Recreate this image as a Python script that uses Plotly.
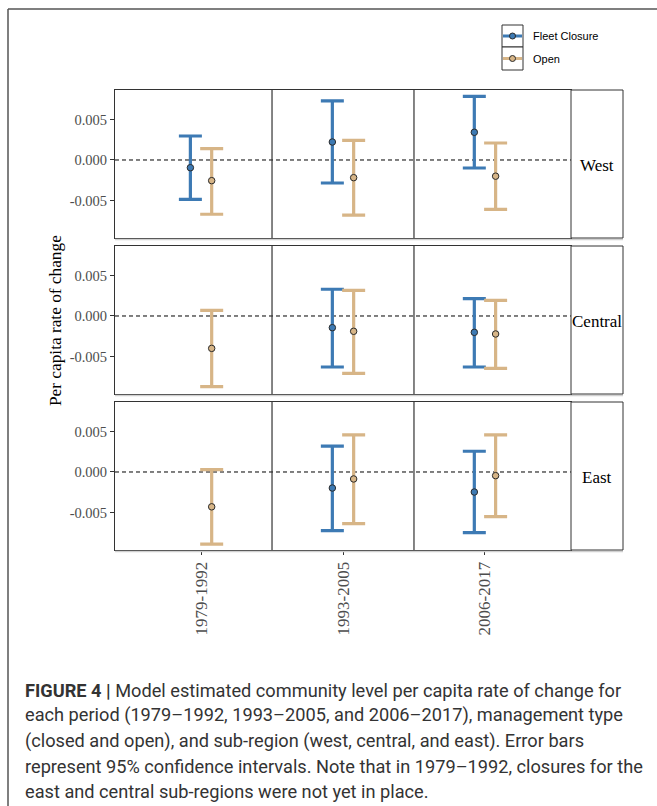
import plotly.graph_objects as go

# ---- data -------------------------------------------------------------
periods = ["1979-1992", "1993-2005", "2006-2017"]
regions = ["West", "Central", "East"]

# Fleet Closure estimates (mean, lower 95%, upper 95%) per region, per period
closure_mean = {
    "West":    [-0.00095, 0.00222, 0.00342],
    "Central": [None, -0.00144, -0.00202],
    "East":    [None, -0.00198, -0.00247],
}
closure_low = {
    "West":    [-0.00486, -0.00284, -0.00099],
    "Central": [None, -0.00630, -0.00630],
    "East":    [None, -0.00724, -0.00748],
}
closure_high = {
    "West":    [0.00296, 0.00730, 0.00786],
    "Central": [None, 0.00330, 0.00214],
    "East":    [None, 0.00320, 0.00256],
}

# Open estimates
open_mean = {
    "West":    [-0.00255, -0.00218, -0.00200],
    "Central": [-0.00400, -0.00189, -0.00222],
    "East":    [-0.00430, -0.00086, -0.00045],
}
open_low = {
    "West":    [-0.00670, -0.00680, -0.00610],
    "Central": [-0.00873, -0.00708, -0.00646],
    "East":    [-0.00890, -0.00637, -0.00550],
}
open_high = {
    "West":    [0.00140, 0.00243, 0.00210],
    "Central": [0.00070, 0.00317, 0.00193],
    "East":    [0.00030, 0.00457, 0.00457],
}

y_ticks = [-0.005, 0.0, 0.005]
y_tick_text = ["-0.005", "0.000", "0.005"]

caption_lines = [
    "<b>FIGURE 4 |</b> Model estimated community level per capita rate of change for",
    "each period (1979–1992, 1993–2005, and 2006–2017), management type",
    "(closed and open), and sub-region (west, central, and east). Error bars",
    "represent 95% confidence intervals. Note that in 1979–1992, closures for the",
    "east and central sub-regions were not yet in place.",
]

# ---- styling ------------------------------------------------------------
W, H = 657, 806
BLUE = "#3d7ab4"
TAN = "#d7b587"
FRAME = "#333333"
SERIF = "Liberation Serif, Times New Roman, serif"
SANS = "Liberation Sans, Arial, sans-serif"
DODGE = 0.075
X_RANGE = [0.394, 3.606]
Y_RANGE = [-0.00963, 0.00864]


def px_x(p):
    return p / W


def px_y(p):
    return 1 - p / H


panel_left, panel_right, strip_right = 115, 571, 623
rows_px = [(90, 238), (246, 394), (402, 550)]

fig = go.Figure()
shapes = []
annotations = []


def add_series(row, xs, means, lows, highs, color, name):
    px, py, up, dn = [], [], [], []
    for x, m, lo, hi in zip(xs, means, lows, highs):
        if m is None:
            continue
        px.append(x)
        py.append(m)
        up.append(hi - m)
        dn.append(m - lo)
    suffix = "" if row == 1 else str(row)
    fig.add_trace(go.Scatter(
        x=px, y=py, mode="markers", name=name, showlegend=False,
        xaxis="x" + suffix, yaxis="y" + suffix,
        marker=dict(size=6.5, color=color, line=dict(color="#2b2b2b", width=1)),
        error_y=dict(type="data", symmetric=False, array=up, arrayminus=dn,
                     color=color, thickness=3.2, width=11.5),
    ))


for i, reg in enumerate(regions):
    row = i + 1
    xs = [1, 2, 3]
    add_series(row, [x - DODGE for x in xs], closure_mean[reg], closure_low[reg],
               closure_high[reg], BLUE, "Fleet Closure")
    add_series(row, [x + DODGE for x in xs], open_mean[reg], open_low[reg],
               open_high[reg], TAN, "Open")

layout = dict(
    width=W, height=H, margin=dict(l=0, r=0, t=0, b=0),
    paper_bgcolor="white", plot_bgcolor="white", showlegend=False,
)

for i, (top, bot) in enumerate(rows_px):
    row = i + 1
    suffix = "" if row == 1 else str(row)
    xkey = "xaxis" + suffix
    ykey = "yaxis" + suffix
    last = row == len(rows_px)
    layout[xkey] = dict(
        domain=[px_x(panel_left), px_x(panel_right)], range=X_RANGE,
        anchor="y" + suffix, showgrid=False, zeroline=False,
        showline=True, mirror=True, linecolor=FRAME, linewidth=1,
        tickmode="array", tickvals=[1, 2, 3],
        ticktext=periods if last else ["", "", ""],
        showticklabels=last, ticks="outside" if last else "",
        ticklen=4, tickcolor=FRAME, tickangle=-90,
        tickfont=dict(family=SERIF, size=17, color="#4d4d4d"),
    )
    layout[ykey] = dict(
        domain=[px_y(bot), px_y(top)], range=Y_RANGE,
        anchor="x" + suffix, showgrid=False, zeroline=False,
        showline=True, mirror=True, linecolor=FRAME, linewidth=1,
        tickmode="array", tickvals=y_ticks, ticktext=y_tick_text,
        ticks="outside", ticklen=4, tickcolor=FRAME,
        tickfont=dict(family=SERIF, size=14.5, color="#4d4d4d"),
    )
    xr = "x" + suffix
    yr = "y" + suffix
    # zero reference line
    shapes.append(dict(type="line", xref=xr, yref=yr, x0=X_RANGE[0], x1=X_RANGE[1],
                       y0=0, y1=0, line=dict(color="black", width=1, dash="4px,3px"),
                       layer="below"))
    # separators between periods
    for xv in (1.5, 2.5):
        shapes.append(dict(type="line", xref=xr, yref=yr + " domain", x0=xv, x1=xv,
                           y0=0, y1=1, line=dict(color=FRAME, width=1.2)))
    # faint shadow under each panel
    shapes.append(dict(type="line", xref="paper", yref="paper",
                       x0=px_x(panel_left), x1=px_x(strip_right),
                       y0=px_y(bot + 1.5), y1=px_y(bot + 1.5),
                       line=dict(color="#d0d0d0", width=1.5)))
    # facet strip
    shapes.append(dict(type="rect", xref="paper", yref="paper",
                       x0=px_x(panel_right), x1=px_x(strip_right),
                       y0=px_y(bot), y1=px_y(top),
                       line=dict(color=FRAME, width=1), fillcolor="white"))
    annotations.append(dict(text=regions[i], xref="paper", yref="paper",
                            x=px_x(597), y=px_y((top + bot) / 2 + 1),
                            showarrow=False, xanchor="center", yanchor="middle",
                            font=dict(family=SERIF, size=17, color="black")))

# y-axis title
annotations.append(dict(text="Per capita rate of change", xref="paper", yref="paper",
                        x=px_x(55), y=px_y(321), textangle=-90, showarrow=False,
                        xanchor="center", yanchor="middle",
                        font=dict(family=SERIF, size=17.3, color="black")))

# legend keys
legend_items = [("Fleet Closure", BLUE, 25, 47), ("Open", TAN, 47, 70)]
for label, color, top, bot in legend_items:
    cy = (top + bot) / 2
    shapes.append(dict(type="rect", xref="paper", yref="paper",
                       x0=px_x(502), x1=px_x(523), y0=px_y(bot), y1=px_y(top),
                       line=dict(color=FRAME, width=1), fillcolor="white"))
    shapes.append(dict(type="line", xref="paper", yref="paper",
                       x0=px_x(503), x1=px_x(522), y0=px_y(cy), y1=px_y(cy),
                       line=dict(color=color, width=3)))
    shapes.append(dict(type="circle", xref="paper", yref="paper",
                       x0=px_x(509.5), x1=px_x(515.5), y0=px_y(cy + 3), y1=px_y(cy - 3),
                       line=dict(color="#2b2b2b", width=1), fillcolor=color))
    annotations.append(dict(text=label, xref="paper", yref="paper",
                            x=px_x(531), y=px_y(cy), showarrow=False,
                            xanchor="left", yanchor="middle",
                            font=dict(family=SANS, size=11, color="black")))

# caption
for k, line in enumerate(caption_lines):
    annotations.append(dict(text=line, xref="paper", yref="paper",
                            x=px_x(23), y=px_y(690 + 25.4 * k), showarrow=False,
                            xanchor="left", yanchor="middle",
                            font=dict(family="Roboto, sans-serif", size=18.2,
                                      color="#333333")))

# outer frame (top and left edges)
shapes.append(dict(type="line", xref="paper", yref="paper", x0=px_x(8), x1=1,
                   y0=px_y(9), y1=px_y(9), line=dict(color="#555555", width=1.5)))
shapes.append(dict(type="line", xref="paper", yref="paper", x0=px_x(8), x1=px_x(8),
                   y0=px_y(9), y1=0, line=dict(color="#555555", width=1.5)))

layout["shapes"] = shapes
layout["annotations"] = annotations
fig.update_layout(**layout)

fig.write_html("out.html")
